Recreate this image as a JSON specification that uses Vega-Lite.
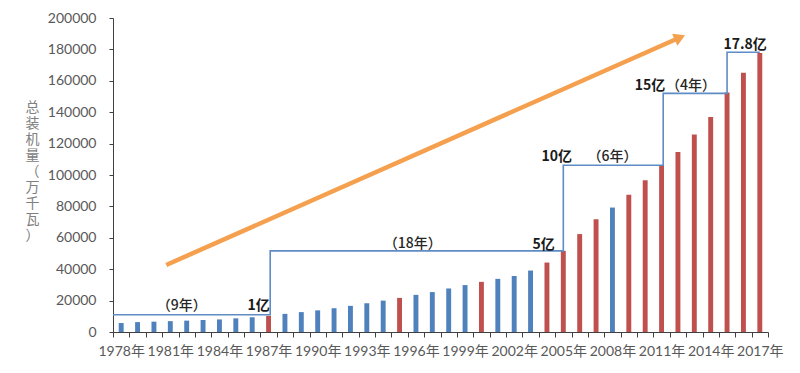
{
  "$schema": "https://vega.github.io/schema/vega-lite/v6.json",
  "width": 655,
  "height": 314,
  "autosize": {"type": "none"},
  "padding": {"left": 113, "top": 18, "right": 32, "bottom": 41},
  "background": "white",
  "config": {"view": {"stroke": null}, "font": "Noto Sans CJK SC"},
  "datasets": {
    "bars": [
      {"year": 1978, "value": 5712, "type": "blue"},
      {"year": 1979, "value": 6302, "type": "blue"},
      {"year": 1980, "value": 6587, "type": "blue"},
      {"year": 1981, "value": 6913, "type": "blue"},
      {"year": 1982, "value": 7236, "type": "blue"},
      {"year": 1983, "value": 7644, "type": "blue"},
      {"year": 1984, "value": 8012, "type": "blue"},
      {"year": 1985, "value": 8705, "type": "blue"},
      {"year": 1986, "value": 9382, "type": "blue"},
      {"year": 1987, "value": 10290, "type": "red"},
      {"year": 1988, "value": 11550, "type": "blue"},
      {"year": 1989, "value": 12664, "type": "blue"},
      {"year": 1990, "value": 13789, "type": "blue"},
      {"year": 1991, "value": 15147, "type": "blue"},
      {"year": 1992, "value": 16653, "type": "blue"},
      {"year": 1993, "value": 18291, "type": "blue"},
      {"year": 1994, "value": 19990, "type": "blue"},
      {"year": 1995, "value": 21722, "type": "red"},
      {"year": 1996, "value": 23654, "type": "blue"},
      {"year": 1997, "value": 25424, "type": "blue"},
      {"year": 1998, "value": 27729, "type": "blue"},
      {"year": 1999, "value": 29877, "type": "blue"},
      {"year": 2000, "value": 31932, "type": "red"},
      {"year": 2001, "value": 33849, "type": "blue"},
      {"year": 2002, "value": 35657, "type": "blue"},
      {"year": 2003, "value": 39141, "type": "blue"},
      {"year": 2004, "value": 44239, "type": "red"},
      {"year": 2005, "value": 51718, "type": "red"},
      {"year": 2006, "value": 62370, "type": "red"},
      {"year": 2007, "value": 71822, "type": "red"},
      {"year": 2008, "value": 79273, "type": "blue"},
      {"year": 2009, "value": 87410, "type": "red"},
      {"year": 2010, "value": 96641, "type": "red"},
      {"year": 2011, "value": 106253, "type": "red"},
      {"year": 2012, "value": 114676, "type": "red"},
      {"year": 2013, "value": 125768, "type": "red"},
      {"year": 2014, "value": 137018, "type": "red"},
      {"year": 2015, "value": 152527, "type": "red"},
      {"year": 2016, "value": 165051, "type": "red"},
      {"year": 2017, "value": 177703, "type": "red"}
    ],
    "step": [
      {"x": 1977.5, "value": 11000},
      {"x": 1987.1, "value": 51700},
      {"x": 2005.0, "value": 106200},
      {"x": 2011.1, "value": 152000},
      {"x": 2015.0, "value": 178200},
      {"x": 2017.0, "value": 178200}
    ],
    "arrow": [
      {"x": 1980.75, "value": 42700},
      {"x": 2012.12, "value": 187570}
    ],
    "arrowhead": [
      {"x": 2012.12, "value": 187570}
    ],
    "labels": [
      {"x": 1986.4, "value": 16600, "text": "1亿", "kind": "amount"},
      {"x": 2003.8, "value": 55600, "text": "5亿", "kind": "amount"},
      {"x": 2004.6, "value": 111500, "text": "10亿", "kind": "amount"},
      {"x": 2010.3, "value": 156800, "text": "15亿", "kind": "amount"},
      {"x": 2016.1, "value": 183000, "text": "17.8亿", "kind": "amount"},
      {"x": 1981.7, "value": 16600, "text": "（9年）", "kind": "span"},
      {"x": 1995.8, "value": 56000, "text": "（18年）", "kind": "span"},
      {"x": 2008.0, "value": 111500, "text": "（6年）", "kind": "span"},
      {"x": 2012.8, "value": 156800, "text": "（4年）", "kind": "span"}
    ]
  },
  "encoding": {
    "y": {
      "field": "value",
      "type": "quantitative",
      "scale": {"domain": [0, 200000], "nice": false},
      "axis": {
        "values": [0, 20000, 40000, 60000, 80000, 100000, 120000, 140000, 160000, 180000, 200000],
        "format": "d",
        "grid": false,
        "domainColor": "#404040",
        "tickColor": "#404040",
        "tickSize": 4,
        "labelFont": "Lato, Noto Sans CJK SC",
        "labelFontSize": 14,
        "labelColor": "#595959",
        "labelPadding": 13,
        "title": ["总", "装", "机", "量", "（", "万", "千", "瓦", "）"],
        "titleAngle": 360,
        "titleFont": "Noto Sans CJK SC",
        "titleFontSize": 14,
        "titleFontWeight": "normal",
        "titleColor": "#808080",
        "titleLineHeight": 16,
        "titleAlign": "center",
        "titleBaseline": "top",
        "titleX": -81,
        "titleY": 82
      }
    }
  },
  "layer": [
    {
      "data": {"name": "bars"},
      "mark": {"type": "bar", "width": {"band": 0.3}},
      "encoding": {
        "x": {
          "field": "year",
          "type": "ordinal",
          "scale": {"paddingInner": 0, "paddingOuter": 0},
          "axis": {
            "title": null,
            "tickBand": "extent",
            "labelAngle": 0,
            "labelOverlap": false,
            "labelExpr": "(datum.value - 1978) % 3 == 0 ? datum.value + '年' : ''",
            "labelFont": "Lato, Noto Sans CJK SC",
            "labelFontSize": 14,
            "labelColor": "#595959",
            "labelPadding": 7,
            "domainColor": "#404040",
            "tickColor": "#404040",
            "tickSize": 5
          }
        },
        "color": {
          "field": "type",
          "type": "nominal",
          "scale": {"domain": ["blue", "red"], "range": ["#4F81BD", "#C0504D"]},
          "legend": null
        }
      }
    },
    {
      "data": {"name": "step"},
      "mark": {"type": "line", "interpolate": "step-after", "color": "#5F8CC4", "strokeWidth": 1.6},
      "encoding": {
        "x": {"field": "x", "type": "quantitative", "scale": {"domain": [1977.5, 2017.5], "nice": false, "zero": false}, "axis": null}
      }
    },
    {
      "data": {"name": "arrow"},
      "mark": {"type": "line", "color": "#F5A04F", "strokeWidth": 4.5},
      "encoding": {
        "x": {"field": "x", "type": "quantitative", "scale": {"domain": [1977.5, 2017.5], "nice": false, "zero": false}, "axis": null}
      }
    },
    {
      "data": {"name": "arrowhead"},
      "mark": {"type": "point", "shape": "triangle-up", "filled": true, "color": "#F5A04F", "opacity": 1, "size": 170, "angle": 66},
      "encoding": {
        "x": {"field": "x", "type": "quantitative", "scale": {"domain": [1977.5, 2017.5], "nice": false, "zero": false}, "axis": null}
      }
    },
    {
      "data": {"name": "labels"},
      "transform": [{"filter": "datum.kind == 'amount'"}],
      "mark": {"type": "text", "font": "Noto Sans CJK SC", "fontSize": 14, "fontWeight": "bold", "color": "#1a1a1a", "align": "center", "baseline": "middle"},
      "encoding": {
        "x": {"field": "x", "type": "quantitative", "scale": {"domain": [1977.5, 2017.5], "nice": false, "zero": false}, "axis": null},
        "text": {"field": "text"}
      }
    },
    {
      "data": {"name": "labels"},
      "transform": [{"filter": "datum.kind == 'span'"}],
      "mark": {"type": "text", "font": "Noto Sans CJK SC", "fontSize": 14, "fontWeight": 500, "color": "#262626", "align": "center", "baseline": "middle"},
      "encoding": {
        "x": {"field": "x", "type": "quantitative", "scale": {"domain": [1977.5, 2017.5], "nice": false, "zero": false}, "axis": null},
        "text": {"field": "text"}
      }
    }
  ],
  "resolve": {"scale": {"x": "independent"}}
}
